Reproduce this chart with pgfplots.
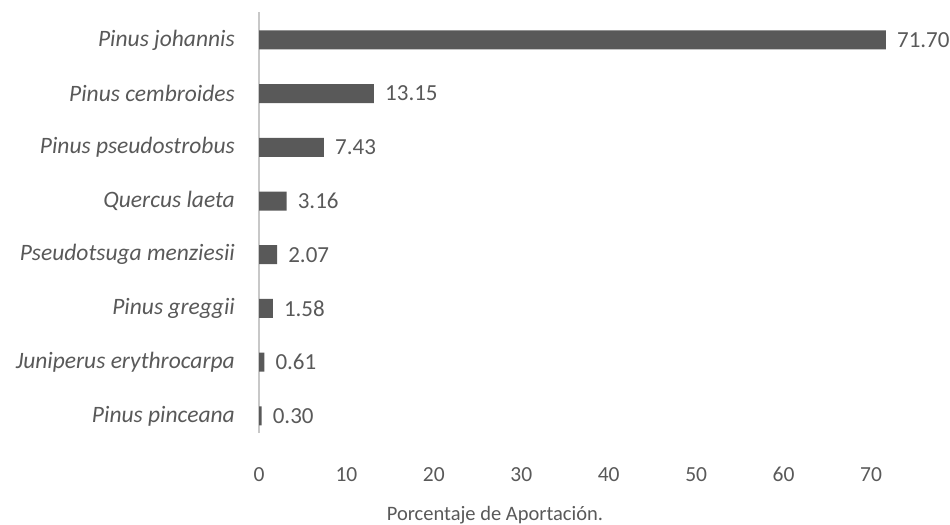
\documentclass[border=0pt]{standalone}
\usepackage{pgfplots}
\pgfplotsset{compat=1.18}
\usepackage{fontspec}
\setmainfont{Carlito}
\definecolor{barc}{HTML}{595959}
\definecolor{txt}{HTML}{595959}
\definecolor{axc}{HTML}{C8C8C8}
\begin{document}
\begin{tikzpicture}
\useasboundingbox (0,0) rectangle (950bp,525bp);
\begin{axis}[
  at={(259bp,92bp)}, anchor=south west,
  scale only axis, width=682bp, height=421bp,
  xbar, xmin=0, xmax=78, ymin=-0.32, ymax=7.52,
  bar width=19bp,
  axis lines*=left,
  x axis line style={draw=none},
  y axis line style={draw=axc, line width=1.3bp},
  major tick length=0pt,
  xtick={0,10,...,70},
  ytick={0,1,2,3,4,5,6,7},
  yticklabels={Pinus pinceana, Juniperus erythrocarpa, Pinus greggii, Pseudotsuga menziesii, Quercus laeta, Pinus pseudostrobus, Pinus cembroides, Pinus johannis},
  /pgf/number format/assume math mode=true,
  xticklabel style={font=\fontsize{21.5bp}{26bp}\selectfont, text=txt, anchor=base, inner sep=0pt, yshift=-48.5bp},
  yticklabel style={font=\fontsize{23.5bp}{28bp}\selectfont\itshape, text=txt, anchor=east, inner sep=0pt, xshift=-24bp},
  xlabel={Porcentaje de Aportación.},
  xlabel style={at={(axis description cs:0.346,0)}, anchor=base, inner sep=0pt, yshift=-87bp, font=\fontsize{20.5bp}{24bp}\selectfont, text=txt},
  nodes near coords={\pgfmathprintnumber[fixed,fixed zerofill,precision=2]{\pgfplotspointmeta}},
  nodes near coords style={font=\fontsize{23bp}{27bp}\selectfont, text=txt, anchor=west, inner sep=0pt, xshift=11bp},
  point meta=x,
]
\addplot[fill=barc, draw=none] coordinates {
  (0.30,0) (0.61,1) (1.58,2) (2.07,3) (3.16,4) (7.43,5) (13.15,6) (71.70,7)
};
\end{axis}
\end{tikzpicture}
\end{document}
